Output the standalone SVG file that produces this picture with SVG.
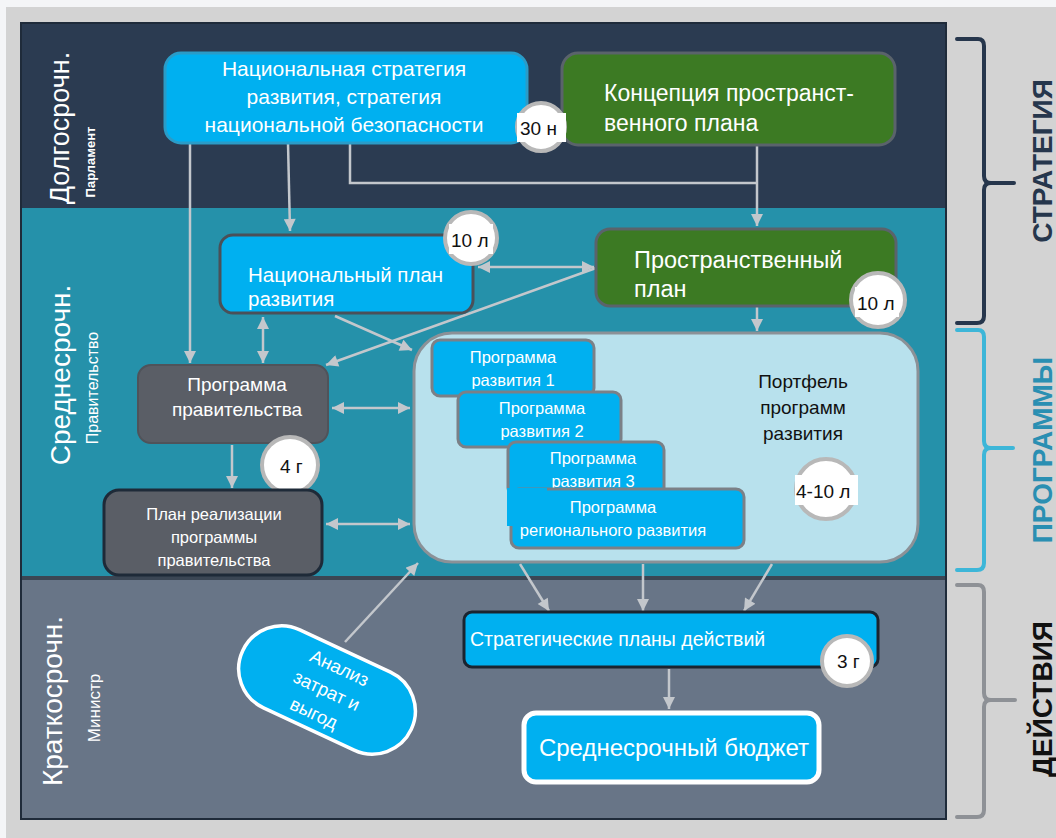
<svg xmlns="http://www.w3.org/2000/svg" width="1056" height="838" viewBox="0 0 1056 838">
<style>
text{font-family:"Liberation Sans",Arial,sans-serif}
.w{fill:#ffffff}
.k{fill:#111111}
.blue{fill:#00b0f0}
.green{fill:#3c7a23;stroke:#5a636b;stroke-width:3}
.gray{fill:#5a5e66}
.conn{fill:none;stroke:#c3c7cc;stroke-width:2.5}
.ring{fill:#ffffff;stroke:#b8b8b8;stroke-width:4}
.br{fill:none;stroke-width:4;stroke-linecap:round;stroke-linejoin:round}
</style>
<defs>
<marker id="ah" viewBox="0 0 10 10" refX="10" refY="5" markerWidth="13" markerHeight="12" markerUnits="userSpaceOnUse" orient="auto-start-reverse">
<path d="M0,0 L10,5 L0,10 z" fill="#c3c7cc"/>
</marker>
</defs>
<rect x="0" y="0" width="1056" height="838" fill="#f4f5f7"/>
<rect x="6" y="7" width="1050" height="831" fill="#d3d3d3"/>
<g id="bands">
<rect x="20" y="22" width="927" height="798" fill="#1f2b3a"/>
<rect x="22" y="24" width="923" height="184" fill="#2b3b51"/>
<rect x="22" y="208" width="923" height="370" fill="#2591aa"/>
<rect x="22" y="578" width="923" height="240" fill="#687587"/>
<rect x="22" y="576" width="923" height="4" fill="#3b4654"/>
</g>
<g id="band-labels">
<text class="w" font-size="27" text-anchor="middle" transform="translate(69,128) rotate(-90)">Долгосрочн.</text>
<text class="w" font-size="13" font-weight="bold" text-anchor="middle" transform="translate(95,162) rotate(-90)">Парламент</text>
<text class="w" font-size="28" text-anchor="middle" transform="translate(70,375) rotate(-90)">Среднесрочн.</text>
<text class="w" font-size="16" text-anchor="middle" transform="translate(98,388) rotate(-90)">Правительство</text>
<text class="w" font-size="28" text-anchor="middle" transform="translate(62,701) rotate(-90)">Краткосрочн.</text>
<text class="w" font-size="17" text-anchor="middle" transform="translate(100,708) rotate(-90)">Министр</text>
</g>
<g id="brackets">
<path class="br" stroke="#26364c" d="M957,39 H978 Q984,39 984,46 V176 Q984,183 991,183 H1014 M991,183 Q984,183 984,190 V316 Q984,323 977,323 H957"/>
<path class="br" stroke="#3db6d8" d="M957,330 H978 Q984,330 984,337 V441 Q984,448 991,448 H1013 M991,448 Q984,448 984,455 V563 Q984,570 977,570 H957"/>
<path class="br" stroke="#8e9196" d="M957,585 H978 Q984,585 984,592 V693 Q984,700 991,700 H1015 M991,700 Q984,700 984,707 V810 Q984,817 977,817 H957"/>
<text fill="#26364c" font-size="28" font-weight="bold" text-anchor="middle" transform="translate(1052,161) rotate(-90)">СТРАТЕГИЯ</text>
<text fill="#2a8fb2" font-size="28" font-weight="bold" text-anchor="middle" transform="translate(1052,450) rotate(-90)">ПРОГРАММЫ</text>
<text fill="#111111" font-size="28" font-weight="bold" text-anchor="middle" transform="translate(1052,699) rotate(-90)">ДЕЙСТВИЯ</text>
</g>
<g id="connectors">
<path class="conn" d="M190,143 V363" marker-end="url(#ah)"/>
<path class="conn" d="M288,143 L290,231" marker-end="url(#ah)"/>
<path class="conn" d="M350,143 V183 H757"/>
<path class="conn" d="M757,145 V226" marker-end="url(#ah)"/>
<path class="conn" d="M478,267 H594" marker-start="url(#ah)" marker-end="url(#ah)"/>
<path class="conn" d="M596,268 L326,365" marker-end="url(#ah)"/>
<path class="conn" d="M335,316 L412,350" marker-end="url(#ah)"/>
<path class="conn" d="M263,317 V363" marker-start="url(#ah)" marker-end="url(#ah)"/>
<path class="conn" d="M757,306 V331" marker-end="url(#ah)"/>
<path class="conn" d="M232,445 V488" marker-end="url(#ah)"/>
<path class="conn" d="M332,408 H410" marker-start="url(#ah)" marker-end="url(#ah)"/>
<path class="conn" d="M326,524 H410" marker-start="url(#ah)" marker-end="url(#ah)"/>
<path class="conn" d="M520,564 L549,611" marker-end="url(#ah)"/>
<path class="conn" d="M643,564 V611" marker-end="url(#ah)"/>
<path class="conn" d="M772,564 L744,611" marker-end="url(#ah)"/>
<path class="conn" d="M669,669 V709" marker-end="url(#ah)"/>
<path class="conn" d="M345,642 L418,563" marker-end="url(#ah)"/>
</g>
<g id="n-strategy">
<rect x="165" y="53" width="362" height="90" rx="16" class="blue" stroke="#2a9cc8" stroke-width="3"/>
<text class="w" font-size="21" text-anchor="middle"><tspan x="344" y="76">Национальная стратегия</tspan><tspan x="344" y="104">развития, стратегия</tspan><tspan x="344" y="132">национальной безопасности</tspan></text>
</g>
<g id="n-concept">
<rect x="562" y="53" width="333" height="92" rx="16" class="green"/>
<text class="w" font-size="23"><tspan x="604" y="101">Концепция пространст-</tspan><tspan x="604" y="131">венного плана</tspan></text>
</g>
<g id="b-30">
<circle cx="541" cy="127" r="24" class="ring"/>
<rect x="517" y="113" width="49" height="29" fill="#ffffff"/>
<text class="k" font-size="19" x="520" y="135">30 н</text>
</g>
<g id="n-natplan">
<rect x="220" y="235" width="253" height="78" rx="13" class="blue" stroke="#4a5058" stroke-width="3"/>
<text class="w" font-size="20.5"><tspan x="248" y="282">Национальный план</tspan><tspan x="248" y="306">развития</tspan></text>
</g>
<g id="b-10a">
<circle cx="471" cy="238" r="26" class="ring"/>
<rect x="449" y="224" width="44" height="30" fill="#ffffff"/>
<text class="k" font-size="19" x="451" y="247">10 л</text>
</g>
<g id="n-spatial">
<rect x="596" y="229" width="300" height="77" rx="14" class="green"/>
<text class="w" font-size="23.5"><tspan x="634" y="268">Пространственный</tspan><tspan x="634" y="297">план</tspan></text>
</g>
<g id="b-10b">
<circle cx="878" cy="300" r="27" class="ring"/>
<rect x="855" y="287" width="44" height="30" fill="#ffffff"/>
<text class="k" font-size="19" x="857" y="310">10 л</text>
</g>
<g id="n-govprog">
<rect x="138" y="365" width="190" height="78" rx="13" class="gray" stroke="#4f535a" stroke-width="2"/>
<text class="w" font-size="19" text-anchor="middle"><tspan x="237" y="391">Программа</tspan><tspan x="237" y="416">правительства</tspan></text>
</g>
<g id="b-4">
<circle cx="290" cy="465" r="28" class="ring"/>
<text class="k" font-size="19" x="280" y="473">4 г</text>
</g>
<g id="n-implplan">
<rect x="104" y="490" width="218" height="85" rx="15" class="gray" stroke="#1e2a38" stroke-width="3"/>
<text class="w" font-size="16.5" text-anchor="middle"><tspan x="214" y="520">План реализации</tspan><tspan x="214" y="543">программы</tspan><tspan x="214" y="566">правительства</tspan></text>
</g>
<g id="n-portfolio">
<rect x="414" y="333" width="504" height="229" rx="38" fill="#b8e1ed" stroke="#8b9197" stroke-width="3"/>
<text class="k" font-size="19" text-anchor="middle"><tspan x="803" y="388">Портфель</tspan><tspan x="803" y="414">программ</tspan><tspan x="803" y="440">развития</tspan></text>
</g>
<g id="n-prog1">
<rect x="432" y="340" width="162" height="56" rx="8" class="blue" stroke="#7b8087" stroke-width="3"/>
<text class="w" font-size="16.5" text-anchor="middle"><tspan x="513" y="363">Программа</tspan><tspan x="513" y="386">развития 1</tspan></text>
</g>
<g id="n-prog2">
<rect x="458" y="392" width="163" height="55" rx="8" class="blue" stroke="#7b8087" stroke-width="3"/>
<text class="w" font-size="16.5" text-anchor="middle"><tspan x="542" y="414">Программа</tspan><tspan x="542" y="437">развития  2</tspan></text>
</g>
<g id="n-prog3">
<rect x="508" y="442" width="156" height="54" rx="8" class="blue" stroke="#7b8087" stroke-width="3"/>
<text class="w" font-size="16.5" text-anchor="middle"><tspan x="593" y="464">Программа</tspan><tspan x="593" y="487">развития 3</tspan></text>
</g>
<g id="n-progreg">
<rect x="511" y="489" width="233" height="59" rx="8" class="blue" stroke="#7b8087" stroke-width="3"/>
<rect x="507" y="488" width="40" height="38" class="blue"/>
<text class="w" font-size="16.5" text-anchor="middle"><tspan x="613" y="513">Программа</tspan><tspan x="613" y="536">регионального  развития</tspan></text>
</g>
<g id="b-410">
<circle cx="826" cy="489" r="30" class="ring"/>
<rect x="795" y="475" width="63" height="30" fill="#ffffff"/>
<text class="k" font-size="19" x="796" y="498">4-10 л</text>
</g>
<g id="n-cba">
<g transform="translate(327,690) rotate(25)">
<rect x="-93" y="-43" width="186" height="86" rx="43" class="blue" stroke="#ffffff" stroke-width="3.5"/>
<text class="w" font-size="18.5" text-anchor="middle"><tspan x="2" y="-19">Анализ</tspan><tspan x="0" y="7">затрат и</tspan><tspan x="-2" y="33">выгод</tspan></text>
</g>
</g>
<g id="n-actionplans">
<rect x="464" y="612" width="414" height="55" rx="8" class="blue" stroke="#1a2430" stroke-width="3"/>
<text class="w" font-size="19.5" x="470" y="646">Стратегические планы действий</text>
</g>
<g id="b-3">
<circle cx="847" cy="661" r="25" class="ring"/>
<text class="k" font-size="19" x="837" y="668">3 г</text>
</g>
<g id="n-budget">
<rect x="524" y="713" width="295" height="69" rx="12" class="blue" stroke="#ffffff" stroke-width="5"/>
<text class="w" font-size="24" text-anchor="middle" x="674" y="756">Среднесрочный бюджет</text>
</g>
</svg>
